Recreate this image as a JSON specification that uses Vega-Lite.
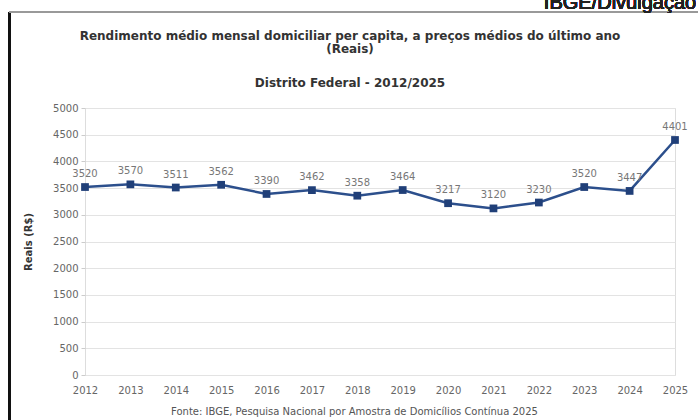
{
  "$schema": "https://vega.github.io/schema/vega-lite/v6.json",
  "autosize": {"type": "none"},
  "width": 590,
  "height": 267,
  "padding": {"left": 85, "top": 108, "right": 23, "bottom": 45},
  "background": "white",
  "config": {
    "font": "DejaVu Sans",
    "view": {"stroke": "#dddddd"}
  },
  "title": {
    "text": ["Rendimento médio mensal domiciliar per capita, a preços médios do último ano", "(Reais)"],
    "subtitle": "Distrito Federal - 2012/2025",
    "anchor": "middle",
    "frame": "group",
    "dx": -30,
    "offset": -97,
    "font": "DejaVu Sans",
    "fontSize": 12,
    "fontWeight": "bold",
    "color": "#333333",
    "lineHeight": 13,
    "subtitleFont": "DejaVu Sans",
    "subtitleFontSize": 12,
    "subtitleFontWeight": "bold",
    "subtitleColor": "#333333",
    "subtitlePadding": 22
  },
  "data": {
    "values": [
      {"ano": 2012, "valor": 3520},
      {"ano": 2013, "valor": 3570},
      {"ano": 2014, "valor": 3511},
      {"ano": 2015, "valor": 3562},
      {"ano": 2016, "valor": 3390},
      {"ano": 2017, "valor": 3462},
      {"ano": 2018, "valor": 3358},
      {"ano": 2019, "valor": 3464},
      {"ano": 2020, "valor": 3217},
      {"ano": 2021, "valor": 3120},
      {"ano": 2022, "valor": 3230},
      {"ano": 2023, "valor": 3520},
      {"ano": 2024, "valor": 3447},
      {"ano": 2025, "valor": 4401}
    ]
  },
  "encoding": {
    "x": {
      "field": "ano",
      "type": "quantitative",
      "scale": {"domain": [2012, 2025], "nice": false, "zero": false},
      "axis": {
        "values": [2012, 2013, 2014, 2015, 2016, 2017, 2018, 2019, 2020, 2021, 2022, 2023, 2024, 2025],
        "format": "d",
        "grid": false,
        "domain": false,
        "ticks": false,
        "labelFlush": false,
        "labelOverlap": false,
        "labelPadding": 10,
        "labelFontSize": 10,
        "labelColor": "#666666",
        "labelFont": "DejaVu Sans",
        "title": "Fonte: IBGE, Pesquisa Nacional por Amostra de Domicílios Contínua 2025",
        "titleFont": "DejaVu Sans",
        "titleFontSize": 10,
        "titleFontWeight": "normal",
        "titleColor": "#555555",
        "titlePadding": 11,
        "titleX": 269,
        "titleAlign": "center"
      }
    },
    "y": {
      "field": "valor",
      "type": "quantitative",
      "scale": {"domain": [0, 5000], "nice": false},
      "axis": {
        "values": [0, 500, 1000, 1500, 2000, 2500, 3000, 3500, 4000, 4500, 5000],
        "format": "d",
        "grid": true,
        "gridColor": "#e3e3e3",
        "domain": false,
        "ticks": true,
        "tickSize": 4,
        "tickColor": "#cccccc",
        "labelPadding": 3,
        "labelFontSize": 10,
        "labelColor": "#666666",
        "labelFont": "DejaVu Sans",
        "title": "Reais (R$)",
        "titleFont": "DejaVu Sans",
        "titleFontSize": 10,
        "titleFontWeight": "bold",
        "titleColor": "#333333",
        "titlePadding": 19
      }
    }
  },
  "layer": [
    {
      "mark": {"type": "line", "color": "#2c4f8c", "strokeWidth": 2.5},
      "encoding": {}
    },
    {
      "mark": {"type": "point", "shape": "square", "filled": true, "size": 60, "color": "#203f78", "opacity": 1},
      "encoding": {}
    },
    {
      "mark": {"type": "text", "dy": -13, "fontSize": 10, "color": "#777777", "font": "DejaVu Sans"},
      "encoding": {"text": {"field": "valor", "type": "quantitative", "format": "d"}}
    },
    {
      "mark": {"type": "rule", "color": "#111111", "strokeWidth": 1.5},
      "encoding": {
        "x": {"datum": 2010.336, "type": "quantitative"},
        "y": {"datum": 6798, "type": "quantitative"},
        "y2": {"datum": -900}
      }
    },
    {
      "mark": {"type": "rule", "color": "#999999", "strokeWidth": 2},
      "encoding": {
        "x": {"datum": 2010.336, "type": "quantitative"},
        "x2": {"datum": 2030},
        "y": {"datum": 6798, "type": "quantitative"}
      }
    },
    {
      "mark": {"type": "text", "align": "left", "baseline": "alphabetic", "fontSize": 20, "color": "#222222", "font": "Liberation Sans"},
      "encoding": {
        "x": {"datum": 2022.11, "type": "quantitative"},
        "y": {"datum": 6854, "type": "quantitative"},
        "text": {"value": "IBGE/Divulgação"}
      }
    }
  ]
}
